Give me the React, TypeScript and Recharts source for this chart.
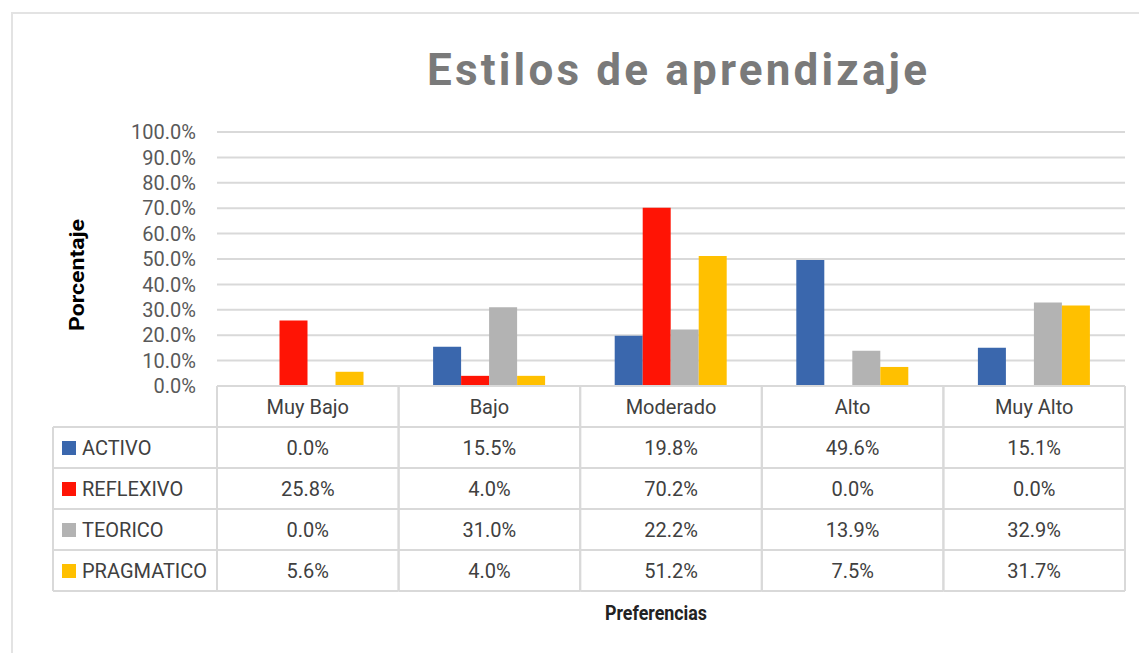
import React from "react";
import { BarChart, Bar, XAxis, YAxis, CartesianGrid } from "recharts";

const categories = ["Muy Bajo", "Bajo", "Moderado", "Alto", "Muy Alto"];
const activo = [0.0, 15.5, 19.8, 49.6, 15.1];
const reflexivo = [25.8, 4.0, 70.2, 0.0, 0.0];
const teorico = [0.0, 31.0, 22.2, 13.9, 32.9];
const pragmatico = [5.6, 4.0, 51.2, 7.5, 31.7];
const yTicks = [0, 10, 20, 30, 40, 50, 60, 70, 80, 90, 100];

const series = [
  { key: "activo", name: "ACTIVO", color: "#3a67ad", values: activo },
  { key: "reflexivo", name: "REFLEXIVO", color: "#ff1405", values: reflexivo },
  { key: "teorico", name: "TEORICO", color: "#b3b3b3", values: teorico },
  { key: "pragmatico", name: "PRAGMATICO", color: "#ffc000", values: pragmatico },
];

const data = categories.map((c, i) => {
  const row: Record<string, string | number> = { name: c };
  series.forEach((s) => {
    row[s.key] = s.values[i];
  });
  return row;
});

const FONT = "Roboto, 'Open Sans', sans-serif";
const LINE = "#d9d9d9";
const TEXT = "#404040";
const ROW_H = 41;

const fmt = (v: number) => `${v.toFixed(1)}%`;

// draws one column of the data table under each category
const TableTick = (props: any) => {
  const { x, y, payload, index } = props;
  const half = payload && payload.offset ? payload.offset : 90.8;
  const left = x - half;
  const right = x + half;
  const bottom = y + ROW_H * 5;
  const legendLeft = 53;
  return (
    <g>
      <line x1={left} x2={left} y1={y} y2={bottom} stroke={LINE} strokeWidth={2} />
      <line x1={right} x2={right} y1={y} y2={bottom} stroke={LINE} strokeWidth={2} />
      <line x1={left} x2={right} y1={y} y2={y} stroke={LINE} strokeWidth={2} />
      {[1, 2, 3, 4, 5].map((r) => (
        <line key={r} x1={left} x2={right} y1={y + ROW_H * r} y2={y + ROW_H * r} stroke={LINE} strokeWidth={2} />
      ))}
      <text x={x} y={y + ROW_H / 2 + 7} textAnchor="middle" fontSize={20} fill={TEXT} fontFamily={FONT}>
        {payload.value}
      </text>
      {series.map((s, r) => (
        <text
          key={s.key}
          x={x}
          y={y + ROW_H * (r + 1) + ROW_H / 2 + 7}
          textAnchor="middle"
          fontSize={20}
          fill={TEXT}
          fontFamily={FONT}
        >
          {fmt(s.values[index])}
        </text>
      ))}
      {index === 0 && (
        <g>
          <line x1={legendLeft} x2={legendLeft} y1={y + ROW_H} y2={bottom} stroke={LINE} strokeWidth={2} />
          {[1, 2, 3, 4, 5].map((r) => (
            <line key={r} x1={legendLeft} x2={left} y1={y + ROW_H * r} y2={y + ROW_H * r} stroke={LINE} strokeWidth={2} />
          ))}
          {series.map((s, r) => (
            <g key={s.key}>
              <rect x={legendLeft + 9} y={y + ROW_H * (r + 1) + 14} width={14} height={14} fill={s.color} />
              <text
                x={legendLeft + 29}
                y={y + ROW_H * (r + 1) + ROW_H / 2 + 7}
                fontSize={20}
                fill={TEXT}
                fontFamily={FONT}
              >
                {s.name}
              </text>
            </g>
          ))}
        </g>
      )}
    </g>
  );
};

export default function App() {
  return (
    <div style={{ position: "absolute", left: 0, top: 0, width: 1139, height: 653, background: "#fff" }}>
      <div
        style={{
          position: "absolute",
          left: 11,
          top: 12,
          width: 1140,
          height: 650,
          borderLeft: "2px solid #e3e3e3",
          borderTop: "2px solid #e3e3e3",
        }}
      />
      <BarChart
        width={1139}
        height={653}
        data={data}
        margin={{ top: 132, right: 14, bottom: 0, left: 0 }}
        barCategoryGap="19%"
        barGap={0}
      >
        <CartesianGrid vertical={false} stroke={LINE} strokeWidth={2} />
        <XAxis
          dataKey="name"
          height={267}
          axisLine={false}
          tickLine={false}
          tickSize={0}
          tickMargin={0}
          interval={0}
          tick={<TableTick />}
        />
        <YAxis
          width={217}
          domain={[0, 100]}
          ticks={yTicks}
          interval={0}
          axisLine={false}
          tickLine={false}
          tickSize={0}
          tickMargin={21}
          tickFormatter={fmt}
          tick={{ fontSize: 20, fill: "#595959", fontFamily: FONT }}
        />
        {series.map((s) => (
          <Bar key={s.key} dataKey={s.key} name={s.name} fill={s.color} isAnimationActive={false} />
        ))}
      </BarChart>
      <svg width={1139} height={653} style={{ position: "absolute", left: 0, top: 0, pointerEvents: "none" }}>
        <text
          x={677}
          y={85}
          textAnchor="middle"
          fontSize={44}
          fontWeight="bold"
          fill="#7a7a7a"
          fontFamily={FONT}
          textLength={500}
          lengthAdjust="spacing"
        >
          Estilos de aprendizaje
        </text>
        <text
          transform="translate(84,275) rotate(-90)"
          textAnchor="middle"
          fontSize={20}
          fontWeight="bold"
          fill="#000"
          fontFamily={FONT}
          textLength={112}
          lengthAdjust="spacingAndGlyphs"
        >
          Porcentaje
        </text>
        <text
          x={656}
          y={620}
          textAnchor="middle"
          fontSize={20}
          fontWeight="bold"
          fill="#222"
          fontFamily={FONT}
          textLength={102}
          lengthAdjust="spacingAndGlyphs"
        >
          Preferencias
        </text>
      </svg>
    </div>
  );
}
